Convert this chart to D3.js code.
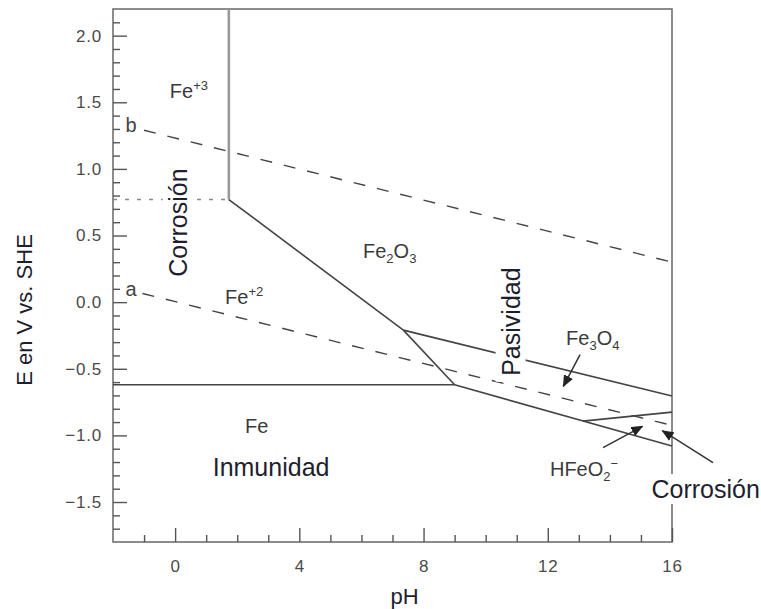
<!DOCTYPE html>
<html>
<head>
<meta charset="utf-8">
<script src="https://cdn.jsdelivr.net/npm/d3@7"></script>
<style>
  html, body { margin: 0; padding: 0; background: #fff; }
  svg { display: block; font-family: "Liberation Sans", Arial, Helvetica, sans-serif; }
</style>
</head>
<body>
<svg id="chart" width="761" height="609"></svg>
<script>
// Pourbaix (E–pH) diagram for iron in water, 25 °C

// axis ticks
const phMajor = [0, 4, 8, 12, 16];
const phMinor = [-1, 1, 2, 3, 5, 6, 7, 9, 10, 11, 13, 14, 15];
const eMajor = [-1.5, -1.0, -0.5, 0.0, 0.5, 1.0, 1.5, 2.0];
const eMinor = [-1.7, -1.6, -1.4, -1.3, -1.2, -1.1, -0.9, -0.8, -0.7, -0.6,
                -0.4, -0.3, -0.2, -0.1, 0.1, 0.2, 0.3, 0.4, 0.6, 0.7, 0.8, 0.9,
                1.1, 1.2, 1.3, 1.4, 1.6, 1.7, 1.8, 1.9, 2.1];

// water stability lines (pH, E)
const waterB = [[-1.0, 1.29], [16, 0.30]];
const waterA = [[-1.05, 0.065], [16, -0.925]];

// phase boundaries (pH, E)
const fe3Fe2o3 = [[1.73, 2.2], [1.73, 0.77]];
const fe3Fe2 = [[-2, 0.77], [1.73, 0.77]];
const fe2Fe2o3 = [[1.73, 0.77], [7.35, -0.21], [9.0, -0.62]];
const feFe2 = [[-2, -0.62], [9.0, -0.62]];
const fe2o3Fe3o4 = [[7.35, -0.21], [16, -0.705]];
const fe3o4Fe = [[9.0, -0.62], [16, -1.08]];
const fe3o4Hfeo2 = [[13.13, -0.893], [16, -0.825]];

// species labels: parts are [string, "sub" | "sup" | ""]
const speciesLabels = [
  { parts: [["Fe", ""], ["+3", "sup"]], ph: -0.17, e: 1.535 },
  { parts: [["Fe", ""], ["2", "sub"], ["O", ""], ["3", "sub"]], ph: 6.05, e: 0.332 },
  { parts: [["Fe", ""], ["+2", "sup"]], ph: 1.61, e: -0.011 },
  { parts: [["Fe", ""]], ph: 2.25, e: -0.982 },
  { parts: [["Fe", ""], ["3", "sub"], ["O", ""], ["4", "sub"]], ph: 12.59, e: -0.319 },
  { parts: [["HFeO", ""], ["2", "sub"], ["\u2212", "sup"]], ph: 12.07, e: -1.303 }
];

// region labels
const regionLabels = [
  { text: "Corrosión", ph: 0.09, e: 0.597, rotate: true, halo: true },
  { text: "Pasividad", ph: 10.81, e: -0.146, rotate: true, halo: true },
  { text: "Inmunidad", ph: 1.21, e: -1.303, rotate: false, halo: false },
  { text: "Corrosión", ph: 15.34, e: -1.47, rotate: false, halo: true }
];

// water line labels
const lineLabels = [
  { text: "b", ph: -1.6, e: 1.275 },
  { text: "a", ph: -1.6, e: 0.045 }
];

// annotation arrows (pH, E)
const arrows = [
  { from: [13.04, -0.394], to: [12.5, -0.632] },
  { from: [13.78, -1.092], to: [15.05, -0.932] },
  { from: [17.32, -1.205], to: [15.69, -0.965] }
];

const svg = d3.select("#chart");
const plotLeft = 113, plotRight = 672, plotTop = 9, plotBottom = 542;

const x = d3.scaleLinear().domain([-2, 16]).range([plotLeft, plotRight]);
const y = d3.scaleLinear().domain([-1.8, 2.2]).range([plotBottom, plotTop]);

const line = d3.line().x(d => x(d[0])).y(d => y(d[1]));

const ink = "#444";
const tickCol = "#555";

// frame
svg.append("rect")
  .attr("x", plotLeft).attr("y", plotTop)
  .attr("width", plotRight - plotLeft).attr("height", plotBottom - plotTop)
  .attr("fill", "none").attr("stroke", "#707070").attr("stroke-width", 1.6);

// axes: ticks point inward
const fmt = d3.format(".1f");
const yMajor = svg.append("g").attr("transform", `translate(${plotLeft},0)`)
  .call(d3.axisLeft(y).tickValues(eMajor).tickSize(-14).tickPadding(11).tickFormat(fmt));
const yMinorG = svg.append("g").attr("transform", `translate(${plotLeft},0)`)
  .call(d3.axisLeft(y).tickValues(eMinor).tickSize(-7).tickFormat(""));
const xMajor = svg.append("g").attr("transform", `translate(0,${plotBottom})`)
  .call(d3.axisBottom(x).tickValues(phMajor).tickSize(-14).tickPadding(18).tickFormat(d3.format("d")));
const xMinorG = svg.append("g").attr("transform", `translate(0,${plotBottom})`)
  .call(d3.axisBottom(x).tickValues(phMinor).tickSize(-7).tickFormat(""));

[yMajor, yMinorG, xMajor, xMinorG].forEach(g => {
  g.select(".domain").remove();
  g.selectAll(".tick line").attr("stroke", tickCol).attr("stroke-width", 1.4);
  g.selectAll("text")
    .attr("fill", "#4a4a4a")
    .style("font-size", "17px")
    .style("letter-spacing", "0.8px")
    .style("font-family", "\"Liberation Sans\", Arial, sans-serif");
});
xMajor.selectAll(".tick text").attr("dy", "0.71em").attr("y", 18);

// axis titles
svg.append("text")
  .attr("x", 404.5).attr("y", 604)
  .attr("text-anchor", "middle")
  .attr("fill", "#1e1e2e").style("font-size", "22px")
  .text("pH");
svg.append("text")
  .attr("transform", `translate(24,310) rotate(-90)`)
  .attr("text-anchor", "middle").attr("dy", "0.35em")
  .attr("fill", "#1e1e2e").style("font-size", "22px")
  .text("E en V vs. SHE");

// water lines
[waterB, waterA].forEach(d => {
  svg.append("path").datum(d).attr("d", line)
    .attr("fill", "none").attr("stroke", ink).attr("stroke-width", 1.4)
    .attr("stroke-dasharray", "12,12");
});

// boundaries
svg.append("path").datum(fe3Fe2o3).attr("d", line)
  .attr("fill", "none").attr("stroke", "#999").attr("stroke-width", 2.6);
svg.append("path").datum(fe3Fe2).attr("d", line)
  .attr("fill", "none").attr("stroke", "#888").attr("stroke-width", 1.5)
  .attr("stroke-dasharray", "4,8");
[fe2Fe2o3, feFe2, fe2o3Fe3o4, fe3o4Fe, fe3o4Hfeo2].forEach(d => {
  svg.append("path").datum(d).attr("d", line)
    .attr("fill", "none").attr("stroke", ink).attr("stroke-width", 1.6)
    .attr("stroke-linejoin", "round");
});

// water line labels
lineLabels.forEach(l => {
  svg.append("text")
    .attr("x", x(l.ph)).attr("y", y(l.e))
    .attr("fill", "#444").style("font-size", "20px")
    .text(l.text);
});

// species labels
speciesLabels.forEach(l => {
  const t = svg.append("text")
    .attr("x", x(l.ph)).attr("y", y(l.e))
    .attr("fill", "#3a3a3a").style("font-size", "20px");
  let shift = 0;
  l.parts.forEach(([s, kind]) => {
    const target = kind === "sub" ? 5 : kind === "sup" ? -8 : 0;
    t.append("tspan")
      .attr("dy", target - shift)
      .style("font-size", kind ? "13px" : "20px")
      .text(s);
    shift = target;
  });
});

// region labels, with a white backing where they sit over lines
regionLabels.forEach(l => {
  const g = svg.append("g");
  const tr = l.rotate
    ? `translate(${x(l.ph)},${y(l.e)}) rotate(-90)`
    : `translate(${x(l.ph)},${y(l.e)})`;
  g.attr("transform", tr);
  const t = g.append("text")
    .attr("text-anchor", l.rotate ? "middle" : "start")
    .attr("dy", l.rotate ? "0.35em" : 0)
    .attr("fill", "#1e1e2e").style("font-size", "25px")
    .text(l.text);
  if (l.halo) {
    const bb = t.node().getBBox();
    g.insert("rect", "text")
      .attr("x", bb.x - 6).attr("y", bb.y - 1)
      .attr("width", bb.width + 12).attr("height", bb.height + 2)
      .attr("fill", "#fff");
  }
});

// arrows
const defs = svg.append("defs");
defs.append("marker")
  .attr("id", "head").attr("markerUnits", "userSpaceOnUse")
  .attr("viewBox", "0 0 12 10").attr("refX", 11).attr("refY", 5)
  .attr("markerWidth", 12).attr("markerHeight", 10)
  .attr("orient", "auto")
  .append("path").attr("d", "M0,0 L12,5 L0,10 Z").attr("fill", "#222");
arrows.forEach(a => {
  svg.append("line")
    .attr("x1", x(a.from[0])).attr("y1", y(a.from[1]))
    .attr("x2", x(a.to[0])).attr("y2", y(a.to[1]))
    .attr("stroke", "#333").attr("stroke-width", 1.5)
    .attr("marker-end", "url(#head)");
});
</script>
</body>
</html>
